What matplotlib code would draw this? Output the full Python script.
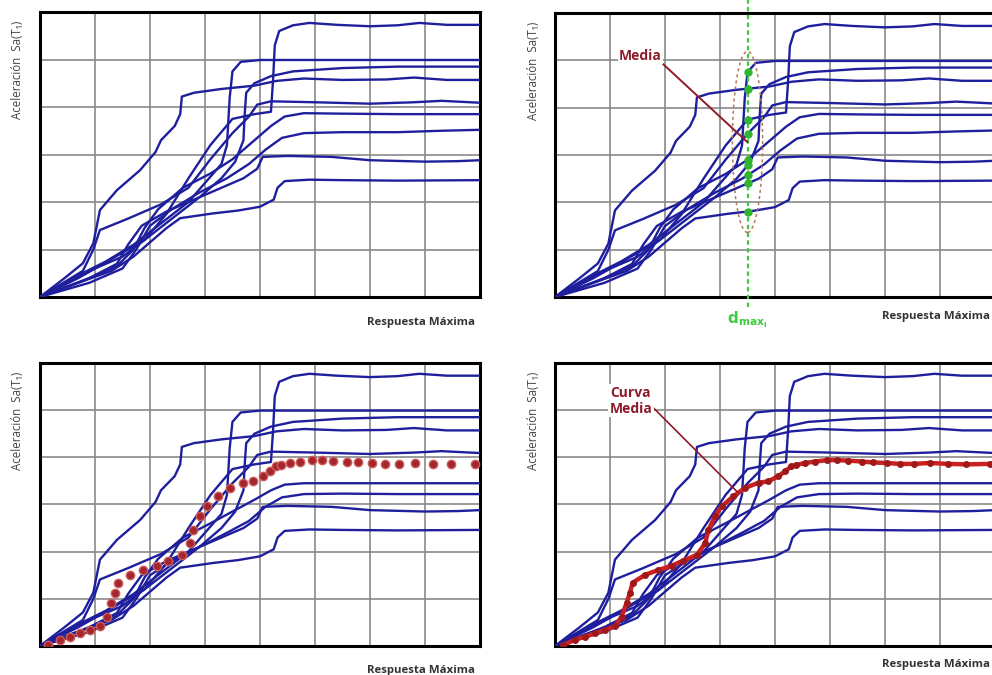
import numpy as np
import matplotlib
matplotlib.use('Agg')
from matplotlib import pyplot as plt
from matplotlib.patches import Ellipse

plt.rcParams['font.family'] = ['Open Sans', 'DejaVu Sans']

# IDA curves (x = respuesta, y = Sa)
curve_1 = [(0, 0), (0.5, 0.3), (1.0, 0.6), (1.5, 0.85), (1.9, 1.2), (2.3, 1.75), (2.7, 2.5), (3.1, 3.2),
           (3.5, 3.75), (3.9, 3.85), (4.2, 3.9), (4.24, 4.6), (4.27, 5.3), (4.35, 5.6), (4.6, 5.72),
           (4.9, 5.77), (5.4, 5.73), (6.0, 5.7), (6.5, 5.72), (6.9, 5.77), (7.4, 5.73), (8, 5.73)]
curve_2 = [(0, 0), (0.6, 0.4), (1.2, 0.75), (1.7, 1.1), (2.2, 1.55), (2.7, 2.0), (3.0, 2.4), (3.3, 2.8),
           (3.4, 3.2), (3.42, 3.6), (3.45, 4.2), (3.5, 4.75), (3.65, 4.95), (4.0, 4.99), (5, 4.99), (8, 4.99)]
curve_3 = [(0, 0), (0.45, 0.4), (0.78, 0.71), (0.97, 1.13), (1.09, 1.83), (1.4, 2.25), (1.82, 2.67),
           (2.1, 3.05), (2.2, 3.3), (2.45, 3.6), (2.55, 3.85), (2.58, 4.22), (2.8, 4.3), (3.3, 4.38),
           (3.9, 4.45), (4.3, 4.55), (4.8, 4.6), (5.5, 4.57), (6.3, 4.58), (6.8, 4.62), (7.4, 4.57), (8, 4.57)]
curve_4 = [(0, 0), (0.7, 0.4), (1.3, 0.8), (1.9, 1.2), (2.4, 1.65), (2.9, 2.1), (3.3, 2.5), (3.55, 2.85),
           (3.7, 3.3), (3.72, 3.8), (3.75, 4.3), (3.9, 4.5), (4.2, 4.65), (4.6, 4.75), (5.5, 4.82),
           (6.5, 4.85), (8, 4.85)]
curve_5 = [(0, 0), (0.78, 0.55), (0.97, 1.0), (1.09, 1.41), (1.6, 1.65), (2.2, 1.95), (2.7, 2.3),
           (3.1, 2.9), (3.5, 3.45), (3.8, 3.8), (3.95, 4.05), (4.2, 4.12), (5, 4.1), (6, 4.07),
           (6.8, 4.1), (7.3, 4.13), (8, 4.09)]
curve_6 = [(0, 0), (0.8, 0.35), (1.4, 0.65), (1.7, 1.0), (1.9, 1.45), (2.15, 1.85), (2.6, 2.3),
           (3.1, 2.6), (3.5, 2.9), (3.9, 3.3), (4.2, 3.6), (4.45, 3.8), (4.8, 3.87), (5.5, 3.86),
           (6.5, 3.85), (8, 3.85)]
curve_7 = [(0, 0), (0.9, 0.3), (1.5, 0.6), (1.75, 1.0), (2.0, 1.5), (2.4, 1.85), (2.9, 2.2), (3.4, 2.5),
           (3.8, 2.8), (4.1, 3.1), (4.4, 3.35), (4.8, 3.45), (5.5, 3.47), (6.5, 3.47), (7.3, 3.5), (8, 3.52)]
curve_8 = [(0, 0), (0.9, 0.4), (1.4, 0.7), (1.6, 1.1), (1.85, 1.5), (2.3, 1.8), (2.8, 2.05), (3.3, 2.3),
           (3.7, 2.5), (3.95, 2.7), (4.05, 2.95), (4.5, 2.97), (5.3, 2.95), (6.0, 2.88), (7.0, 2.85),
           (7.6, 2.86), (8, 2.88)]
curve_9 = [(0, 0), (0.7, 0.3), (1.3, 0.55), (1.7, 0.85), (2.0, 1.15), (2.3, 1.45), (2.55, 1.66),
           (3.15, 1.76), (3.6, 1.82), (4.0, 1.9), (4.25, 2.05), (4.32, 2.3), (4.45, 2.44), (4.9, 2.47),
           (5.5, 2.46), (6.5, 2.45), (8, 2.46)]

# the lower two panels show two of the curves ending lower
curve_6_low = [(0, 0), (0.8, 0.35), (1.4, 0.65), (1.7, 1.0), (1.9, 1.45), (2.15, 1.85), (2.6, 2.3),
               (3.1, 2.6), (3.5, 2.85), (3.9, 3.1), (4.2, 3.3), (4.45, 3.42), (4.8, 3.45), (5.5, 3.45),
               (6.5, 3.45), (8, 3.45)]
curve_7_low = [(0, 0), (0.9, 0.3), (1.5, 0.6), (1.75, 1.0), (2.0, 1.5), (2.4, 1.8), (2.9, 2.1),
               (3.4, 2.4), (3.8, 2.65), (4.1, 2.95), (4.4, 3.15), (4.8, 3.22), (5.5, 3.23), (6.5, 3.22),
               (8, 3.22)]

curves_top = [curve_1, curve_2, curve_3, curve_4, curve_5, curve_6, curve_7, curve_8, curve_9]
curves_bottom = [curve_1, curve_2, curve_3, curve_4, curve_5, curve_6_low, curve_7_low, curve_8, curve_9]

# mean curve (red)
mean_x = [0.15, 0.36, 0.55, 0.73, 0.91, 1.09, 1.21, 1.30, 1.36, 1.41, 1.64, 1.88, 2.12, 2.33, 2.58,
          2.73, 2.79, 2.91, 3.03, 3.24, 3.45, 3.70, 3.88, 4.06, 4.18, 4.30, 4.39, 4.55, 4.73, 4.94,
          5.12, 5.33, 5.58, 5.79, 6.03, 6.27, 6.52, 6.82, 7.15, 7.48, 7.91]
mean_y = [0.02, 0.13, 0.20, 0.27, 0.34, 0.42, 0.62, 0.91, 1.12, 1.34, 1.51, 1.61, 1.70, 1.81, 1.93,
          2.18, 2.46, 2.75, 2.96, 3.17, 3.35, 3.46, 3.49, 3.60, 3.70, 3.81, 3.84, 3.88, 3.91, 3.94,
          3.94, 3.93, 3.91, 3.89, 3.88, 3.86, 3.86, 3.88, 3.86, 3.85, 3.86]

d_max = 3.5
x_max, y_max = 8, 6

blue = '#1f1f9e'
dark_red = '#8e1b2a'
green = '#3ccc3c'


def base_panel(rect, curves):
    ax = fig.add_axes(rect)
    ax.set_xlim(0, x_max)
    ax.set_ylim(0, y_max)
    ax.set_xticks(np.arange(0, x_max + 1))
    ax.set_yticks(np.arange(0, y_max + 1))
    ax.grid(True, color='#8a8a8a', lw=1.2)
    ax.tick_params(length=0, labelbottom=False, labelleft=False)
    for s in ax.spines.values():
        s.set_linewidth(2.2)
        s.set_color('black')
    for c in curves:
        xs, ys = zip(*c)
        ax.plot(xs, ys, color=blue, lw=1.7, solid_joinstyle='round', zorder=3)
    ax.text(-0.05, 0.97, 'Aceleración  Sa(T₁)', transform=ax.transAxes, rotation=90,
            ha='center', va='top', fontsize=8.3, color='#444444')
    return ax


fig = plt.figure(figsize=(9.92, 6.75), dpi=100)

# panel 1
ax1 = base_panel([0.0403, 0.56, 0.4435, 0.4222], curves_top)
ax1.text(0.989, -0.088, 'Respuesta Máxima', transform=ax1.transAxes, ha='right', va='center',
         fontsize=8.2, fontweight='bold', color='#333333')

# panel 2
ax2 = base_panel([0.5595, 0.56, 0.4435, 0.4205], curves_top)
ax2.text(0.989, -0.07, 'Respuesta Máxima', transform=ax2.transAxes, ha='right', va='center',
         fontsize=8.2, fontweight='bold', color='#333333')
ax2.axvline(d_max, ymin=-0.035, ymax=1.05, color=green, lw=1.6, ls=(0, (2, 1.5)), clip_on=False, zorder=4)
cross = [np.interp(d_max, *zip(*c)) for c in curves_top]
ax2.plot([d_max] * len(cross), cross, 'o', color='#2fb52f', ms=5, zorder=5)
ell = Ellipse((d_max, (max(cross) + min(cross)) / 2), 0.55, (max(cross) - min(cross)) * 1.3,
              fill=False, ec='#b07a5a', ls=(0, (2, 2)), lw=1.1, zorder=4)
ax2.add_patch(ell)
ax2.annotate('Media', xy=(d_max, np.interp(d_max, mean_x, mean_y) - 0.1), xytext=(1.55, 5.1),
             ha='center', va='center', fontsize=10, fontweight='bold', color=dark_red,
             bbox=dict(boxstyle='square,pad=0.1', fc='white', ec='none'),
             arrowprops=dict(arrowstyle='-', color=dark_red, lw=1.4, shrinkA=0, shrinkB=0,
                             relpos=(1.0, 0.0)), zorder=6)
ax2.text(d_max, -0.08, r'$\mathbf{d}_{\mathbf{max}_{\mathbf{i}}}$', transform=ax2.get_xaxis_transform(),
         ha='center', va='center', fontsize=11, color=green)

# panel 3
ax3 = base_panel([0.0403, 0.043, 0.4435, 0.4193], curves_bottom)
ax3.text(0.989, -0.085, 'Respuesta Máxima', transform=ax3.transAxes, ha='right', va='center',
         fontsize=8.2, fontweight='bold', color='#333333')
ax3.plot(mean_x, mean_y, 'o', ms=6, mfc='#a3262c', mec='#cf5b5b', mew=1.0, zorder=5)

# panel 4
ax4 = base_panel([0.5595, 0.043, 0.4435, 0.4193], curves_bottom)
ax4.text(0.989, -0.067, 'Respuesta Máxima', transform=ax4.transAxes, ha='right', va='center',
         fontsize=8.2, fontweight='bold', color='#333333')
ax4.plot(mean_x, mean_y, '-', color='#cc1f1f', lw=3.2, solid_joinstyle='round', zorder=5)
ax4.plot(mean_x, mean_y, 'o', ms=4, color='#9e1a1a', zorder=6)
ax4.annotate('Curva\nMedia', xy=(3.33, np.interp(3.33, mean_x, mean_y)), xytext=(1.38, 5.2),
             ha='center', va='center', fontsize=10, fontweight='bold', color=dark_red,
             linespacing=1.2, bbox=dict(boxstyle='square,pad=0.1', fc='white', ec='none'),
             arrowprops=dict(arrowstyle='-', color=dark_red, lw=1.2, shrinkA=0, shrinkB=0,
                             relpos=(1.0, 0.3)), zorder=7)

fig.savefig('out.png', dpi=100)
